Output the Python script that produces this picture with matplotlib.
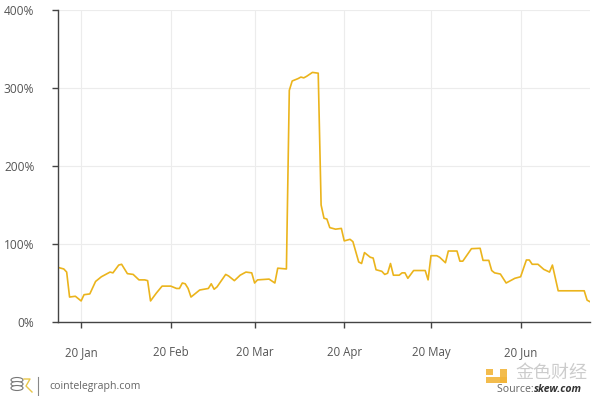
import matplotlib
matplotlib.use("Agg")
import matplotlib.pyplot as plt
import numpy as np
import pandas as pd
from matplotlib.patches import Ellipse, Rectangle

dates = [
    "2020-01-12", "2020-01-14", "2020-01-15", "2020-01-16", "2020-01-18", "2020-01-20",
    "2020-01-21", "2020-01-23", "2020-01-25", "2020-01-27", "2020-01-30", "2020-01-31",
    "2020-02-02", "2020-02-03", "2020-02-05", "2020-02-07", "2020-02-09", "2020-02-11",
    "2020-02-12", "2020-02-13", "2020-02-15", "2020-02-17", "2020-02-20", "2020-02-22",
    "2020-02-23", "2020-02-24", "2020-02-25", "2020-02-26", "2020-02-27", "2020-03-01",
    "2020-03-04", "2020-03-05", "2020-03-06", "2020-03-07", "2020-03-10", "2020-03-11",
    "2020-03-13", "2020-03-15", "2020-03-17", "2020-03-19", "2020-03-20", "2020-03-21",
    "2020-03-25", "2020-03-27", "2020-03-28", "2020-03-31", "2020-04-01", "2020-04-02",
    "2020-04-04", "2020-04-05", "2020-04-06", "2020-04-07", "2020-04-09", "2020-04-11",
    "2020-04-12", "2020-04-13", "2020-04-14", "2020-04-15", "2020-04-17", "2020-04-19",
    "2020-04-20", "2020-04-22", "2020-04-23", "2020-04-25", "2020-04-26", "2020-04-27",
    "2020-04-29", "2020-04-30", "2020-05-01", "2020-05-03", "2020-05-04", "2020-05-05",
    "2020-05-06", "2020-05-07", "2020-05-09", "2020-05-10", "2020-05-11", "2020-05-12",
    "2020-05-14", "2020-05-18", "2020-05-19", "2020-05-20", "2020-05-22", "2020-05-23",
    "2020-05-25", "2020-05-26", "2020-05-29", "2020-05-30", "2020-05-31", "2020-06-03",
    "2020-06-06", "2020-06-07", "2020-06-09", "2020-06-10", "2020-06-11", "2020-06-13",
    "2020-06-15", "2020-06-17", "2020-06-18", "2020-06-20", "2020-06-22", "2020-06-23",
    "2020-06-24", "2020-06-26", "2020-06-28", "2020-06-30", "2020-07-01", "2020-07-03",
    "2020-07-06", "2020-07-12", "2020-07-13", "2020-07-14",
]
values = [
    70, 68, 64, 32, 33, 27,
    35, 36, 52, 58, 64, 63,
    73, 74, 62, 61, 54, 54,
    53, 27, 37, 46, 46, 43,
    43, 50, 49, 43, 32, 41,
    43, 49, 42, 45, 61, 59,
    53, 60, 64, 63, 50, 54,
    55, 50, 69, 68, 297, 309,
    312, 314, 313, 315, 320, 319,
    150, 133, 132, 121, 119, 120,
    104, 106, 103, 77, 75, 89,
    83, 82, 67, 65, 61, 62.5,
    75, 60, 60, 63, 63, 56,
    66, 66, 54, 85, 85, 83,
    76, 91, 91, 78, 78, 94,
    94.5, 79, 79, 66, 63, 61.5,
    50, 54, 56, 58, 79.5, 79.5,
    74, 74, 67.5, 64, 73, 40,
    40, 40, 28, 26,
]
tick_dates = ["2020-01-20", "2020-02-20", "2020-03-20", "2020-04-20", "2020-05-20", "2020-06-20"]
tick_labels = ["20 Jan", "20 Feb", "20 Mar", "20 Apr", "20 May", "20 Jun"]
y_ticks = [0, 100, 200, 300, 400]
y_labels = ["0%", "100%", "200%", "300%", "400%"]

plt.rcParams['font.family'] = ['Open Sans', 'DejaVu Sans']

fig = plt.figure(figsize=(6.0, 3.96), dpi=100)
ax = fig.add_axes([58/600, (396-322)/396, 532/600, 312/396])

x = pd.to_datetime(dates)
ax.plot(x, values, color="#EBB41C", lw=1.2, solid_joinstyle="round")

ax.set_xlim(x[0], x[-1])
ax.set_ylim(0, 400)
ax.set_xticks(pd.to_datetime(tick_dates))
ax.set_xticklabels(tick_labels)
ax.set_yticks(y_ticks)
ax.set_yticklabels(y_labels)

ax.grid(True, color="#ececec", lw=0.8)
ax.set_axisbelow(True)
for s in ["top", "right"]:
    ax.spines[s].set_visible(False)
for s in ["left", "bottom"]:
    ax.spines[s].set_color("#444444")
    ax.spines[s].set_linewidth(1.0)
ax.tick_params(axis="y", length=4, width=1, color="#444444", pad=13, labelsize=8.6, labelcolor="#555555")
ax.tick_params(axis="x", length=4, width=1, color="#444444", pad=13, labelsize=8.3, labelcolor="#555555")

def fx(px):
    return px / 600

def fy(py):
    return 1 - py / 396

# footer: cointelegraph logo
for yy in [380, 384, 388]:
    fig.patches.append(Ellipse((fx(17), fy(yy)), 12/600, 5/396, transform=fig.transFigure,
                               facecolor="white", edgecolor="#777777", lw=0.8))
fig.add_artist(plt.Line2D([fx(24), fx(30), fx(26), fx(32)], [fy(379), fy(379), fy(386), fy(392)],
                          transform=fig.transFigure, color="#E8C64A", lw=1.0))
fig.add_artist(plt.Line2D([fx(38), fx(38)], [fy(377), fy(395)], transform=fig.transFigure,
                          color="#888888", lw=0.8))
fig.text(fx(49), fy(386), "cointelegraph.com", color="#666666", fontsize=7.6, va="center")

# source and watermark
fig.text(fx(497), fy(390), "Source: ", color="#666666", fontsize=7.6, va="center", ha="left")
fig.text(fx(534), fy(390), "skew.com", color="#333333", fontsize=7.6, va="center", ha="left",
         style="italic", weight="bold")
for (x0, y0, w, h) in [(500, 369, 7, 14), (486, 377, 21, 6), (486, 369, 7, 6)]:
    fig.patches.append(Rectangle((fx(x0), fy(y0 + h)), w/600, h/396, transform=fig.transFigure,
                                 facecolor="#F2B53A", edgecolor="none", alpha=0.9))
fig.text(fx(551), fy(373), "金色财经", color="#c4c4c4", fontsize=13, va="center", ha="center",
         family=['Noto Sans CJK SC', 'DejaVu Sans'], alpha=0.85)

fig.savefig("out.png", dpi=100, facecolor="white")
